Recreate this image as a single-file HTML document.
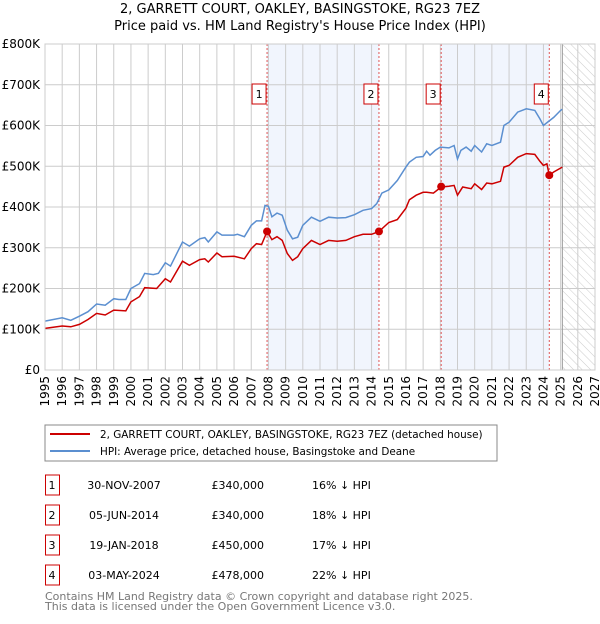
<!DOCTYPE html>
<html><head><meta charset="utf-8"><style>
body{margin:0;background:#fff;width:600px;height:620px;overflow:hidden;font-family:"DejaVu Sans","Liberation Sans",sans-serif}
svg text{font-family:"DejaVu Sans","Liberation Sans",sans-serif}
</style></head><body>
<svg id="c" width="600" height="620" xmlns="http://www.w3.org/2000/svg">
<defs><pattern id="hatch" width="6" height="6" patternUnits="userSpaceOnUse" patternTransform="rotate(-45)"><line x1="0" y1="0" x2="0" y2="6" stroke="#ccc" stroke-width="1"/></pattern></defs>
<text x="300" y="13" text-anchor="middle" font-size="13">2, GARRETT COURT, OAKLEY, BASINGSTOKE, RG23 7EZ</text>
<text x="300" y="30" text-anchor="middle" font-size="13">Price paid vs. HM Land Registry's House Price Index (HPI)</text>
<g id="plot"></g>
<rect x="45" y="425" width="452" height="36" fill="#fff" stroke="#888"/>
<line x1="50" y1="434" x2="90" y2="434" stroke="#cc0000" stroke-width="2"/>
<text x="100" y="438" font-size="10.4">2, GARRETT COURT, OAKLEY, BASINGSTOKE, RG23 7EZ (detached house)</text>
<line x1="50" y1="451" x2="90" y2="451" stroke="#5b8fd0" stroke-width="2"/>
<text x="100" y="455" font-size="10.4">HPI: Average price, detached house, Basingstoke and Deane</text>
<g id="tbl"></g>
<text x="45" y="600" font-size="11" fill="#777">Contains HM Land Registry data © Crown copyright and database right 2025.</text>
<text x="45" y="610" font-size="11" fill="#777">This data is licensed under the Open Government Licence v3.0.</text>
</svg>
<script>
const hpiYears=[1995,1996,1996.5,1997,1997.5,1998,1998.5,1999,1999.3,1999.7,2000,2000.5,2000.8,2001.3,2001.6,2002,2002.3,2003,2003.4,2004,2004.3,2004.5,2005,2005.3,2006,2006.2,2006.6,2007,2007.3,2007.6,2007.8,2008,2008.2,2008.5,2008.8,2009.1,2009.4,2009.7,2010,2010.5,2011,2011.5,2012,2012.5,2013,2013.5,2014,2014.3,2014.6,2015,2015.5,2016,2016.2,2016.6,2017,2017.2,2017.4,2017.7,2018,2018.5,2018.8,2019,2019.2,2019.5,2019.8,2020,2020.4,2020.7,2021,2021.5,2021.7,2022,2022.5,2023,2023.5,2023.8,2024,2024.3,2024.6,2025,2025.1];
const hpiValues=[120,128,122,132,143,162,159,175,173,173,200,212,237,234,237,263,255,314,304,322,325,314,339,331,331,333,327,355,366,366,404,402,376,385,380,343,322,326,355,375,365,375,373,374,381,392,396,408,434,442,465,498,510,522,524,537,527,539,547,545,551,518,539,547,537,551,535,555,551,559,600,608,633,641,637,616,600,610,620,637,640];
const ppYears=[1995,1996,1996.5,1997,1997.5,1998,1998.5,1999,1999.7,2000,2000.5,2000.8,2001.5,2002,2002.3,2003,2003.4,2004,2004.3,2004.5,2005,2005.3,2006,2006.6,2007,2007.3,2007.6,2007.92,2008.2,2008.5,2008.8,2009.1,2009.4,2009.7,2010,2010.5,2011,2011.5,2012,2012.5,2013,2013.5,2014,2014.43,2015,2015.5,2016,2016.2,2016.6,2017,2017.2,2017.6,2018.05,2018.5,2018.8,2019,2019.3,2019.8,2020,2020.4,2020.7,2021,2021.5,2021.7,2022,2022.5,2023,2023.5,2023.8,2024,2024.2,2024.34,2024.6,2025.1];
const ppValues=[102,108,106,112,124,139,135,147,145,167,180,202,200,224,216,267,257,271,273,265,287,278,279,273,298,310,308,340,320,327,318,286,269,278,298,318,308,318,316,318,327,333,333,340,362,369,397,418,429,436,436,434,449,451,453,429,449,445,457,443,459,457,463,498,502,522,531,529,512,502,506,478,486,498];
const saleYears=[2007.92,2014.43,2018.05,2024.34];
const saleValues=[340,340,450,478];
const saleLabels=["1","2","3","4"];
const saleDates=["30-NOV-2007","05-JUN-2014","19-JAN-2018","03-MAY-2024"];
const salePrices=["£340,000","£340,000","£450,000","£478,000"];
const saleDiffs=["16% ↓ HPI","18% ↓ HPI","17% ↓ HPI","22% ↓ HPI"];
const yTicks=[0,100,200,300,400,500,600,700,800];
const yTickLabels=["£0","£100K","£200K","£300K","£400K","£500K","£600K","£700K","£800K"];
const xStart=1995,xEnd=2027,dataEnd=2025.1;
const X=y=>45+(y-xStart)*(550/(xEnd-xStart));
const Y=v=>370-v*(326/800);
const NS="http://www.w3.org/2000/svg";
const plot=document.getElementById('plot');
function mk(tag,at,parent){const e=document.createElementNS(NS,tag);for(const k in at)e.setAttribute(k,at[k]);(parent||plot).appendChild(e);return e;}
for(let i=0;i<saleYears.length;i+=2){
  const x1=X(saleYears[i]),x2=i+1<saleYears.length?X(saleYears[i+1]):X(dataEnd);
  const r=mk('rect',{x:x1,y:Y(800),width:x2-x1,height:Y(0)-Y(800),fill:'#f1f5fd'});
  
  
}
const h=mk('rect',{x:X(dataEnd),y:Y(800),width:X(xEnd)-X(dataEnd),height:Y(0)-Y(800),fill:'url(#hatch)'});


for(let yr=xStart;yr<=xEnd;yr++){
  const l=mk('line',{x1:X(yr),x2:X(yr),y1:Y(800),y2:Y(0),stroke:'#ccc','stroke-width':1});
  
  
  const t=mk('text',{x:0,y:0,'font-size':12,'text-anchor':'end',transform:`translate(${X(yr)+4},${Y(0)+6}) rotate(-90)`});
  t.textContent=yr;
  
  
}
yTicks.forEach((v,i)=>{
  const l=mk('line',{x1:X(xStart),x2:X(xEnd),y1:Y(v),y2:Y(v),stroke:'#ccc','stroke-width':1});
  
  
  const t=mk('text',{x:40,y:Y(v)+4,'font-size':12,'text-anchor':'end'});
  t.textContent=yTickLabels[i];
  
  
});
const de=mk('line',{x1:X(dataEnd),x2:X(dataEnd),y1:Y(800),y2:Y(0),stroke:'#999','stroke-width':1});


saleYears.forEach((yr,i)=>{
  const l=mk('line',{x1:X(yr),x2:X(yr),y1:Y(800),y2:Y(0),stroke:'#e05555','stroke-width':1,'stroke-dasharray':'2,2'});
  
  
  const b=mk('rect',{x:X(yr)-15,y:84,width:14,height:20,fill:'#fff',stroke:'#cc0000'});
  
  
  const t=mk('text',{x:X(yr)-8,y:98,'font-size':11,'text-anchor':'middle'});
  t.textContent=saleLabels[i];
  
  
});
const hp=mk('path',{d:hpiYears.map((y,i)=>(i?'L':'M')+X(y).toFixed(1)+','+Y(hpiValues[i]).toFixed(1)).join(''),fill:'none',stroke:'#5b8fd0','stroke-width':1.5});


const pp=mk('path',{d:ppYears.map((y,i)=>(i?'L':'M')+X(y).toFixed(1)+','+Y(ppValues[i]).toFixed(1)).join(''),fill:'none',stroke:'#cc0000','stroke-width':1.5});


saleYears.forEach((yr,i)=>{
  const c=mk('circle',{cx:X(yr),cy:Y(saleValues[i]),r:4,fill:'#cc0000'});
  
  
});
const fr=mk('rect',{x:X(xStart),y:Y(800),width:X(xEnd)-X(xStart),height:Y(0)-Y(800),fill:'none',stroke:'#ccc'});


const tbl=document.getElementById('tbl');
saleLabels.forEach((lab,i)=>{
  const yc=485+i*30;
  const b=mk('rect',{x:45.5,y:yc-10,width:14,height:20,fill:'#fff',stroke:'#cc0000'},tbl);
  
  
  const cells=[[52,lab,'middle','table-row-number'],[124,saleDates[i],'middle','table-date'],[264,salePrices[i],'end','table-price'],[312,saleDiffs[i],'start','table-hpi-diff']];
  cells.forEach(c=>{
    const t=mk('text',{x:c[0],y:yc+4,'font-size':11,'text-anchor':c[2]},tbl);
    t.textContent=c[1];
    
    
  });
});
</script>
</body></html>
